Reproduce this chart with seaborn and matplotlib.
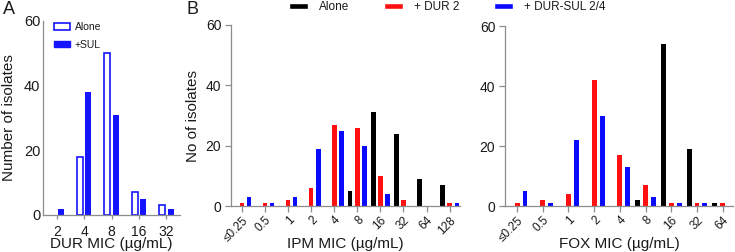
import pandas as pd
import numpy as np
import seaborn as sns
import matplotlib.pyplot as plt
from matplotlib.patches import Patch

# Panel A: DUR MIC distribution, alone vs + SUL
dur_mic = ["2", "4", "8", "16", "32"]
dur_alone = [0, 18, 50, 7, 3]
dur_sul = [2, 38, 31, 5, 2]

# Panel B: IPM and FOX MIC distributions
ipm_mic = ["≤0.25", "0.5", "1", "2", "4", "8", "16", "32", "64", "128"]
ipm_alone = [0, 0, 0, 0, 0, 5, 31, 24, 9, 7]
ipm_dur = [1, 1, 2, 6, 27, 26, 10, 2, 0, 1]
ipm_dursul = [3, 1, 3, 19, 25, 20, 4, 0, 0, 1]

fox_mic = ["≤0.25", "0.5", "1", "2", "4", "8", "16", "32", "64"]
fox_alone = [0, 0, 0, 0, 0, 2, 54, 19, 1]
fox_dur = [1, 2, 4, 42, 17, 7, 1, 1, 1]
fox_dursul = [5, 1, 22, 30, 13, 3, 1, 1, 0]

conditions = ["Alone", "+ DUR 2", "+ DUR-SUL 2/4"]
colors = ["#000000", "#ff1010", "#0a0aff"]
blue = "#1414ff"
spine_col = "#8c8c8c"
text_col = "#1a1a1a"

sns.set_style("ticks")
plt.rcParams["font.family"] = ["Liberation Sans", "DejaVu Sans"]
plt.rcParams["text.color"] = text_col
plt.rcParams["axes.labelcolor"] = text_col
plt.rcParams["xtick.color"] = spine_col
plt.rcParams["ytick.color"] = spine_col
plt.rcParams["xtick.labelcolor"] = text_col
plt.rcParams["ytick.labelcolor"] = text_col


def long_df(mics, series):
    rows = []
    for name, vals in zip(conditions, series):
        for m, v in zip(mics, vals):
            rows.append({"MIC": m, "Condition": name, "Count": v})
    return pd.DataFrame(rows)


def style_axis(ax, ysize, ylen):
    sns.despine(ax=ax)
    for s in ["left", "bottom"]:
        ax.spines[s].set_color(spine_col)
        ax.spines[s].set_linewidth(0.9)
    ax.set_ylim(0, 60)
    ax.set_yticks([0, 20, 40, 60])
    ax.tick_params(axis="y", length=ylen, width=0.9, pad=2 if ylen == 0 else 3,
                   labelsize=ysize)


W, H = 735, 252
fig = plt.figure(figsize=(W / 100, H / 100), dpi=100)

def frac(left, right, top, bottom):
    return [left / W, 1 - bottom / H, (right - left) / W, (bottom - top) / H]

# ---- Panel A ----
axA = fig.add_axes(frac(43, 180, 21, 215))
dfA = pd.DataFrame({
    "MIC": dur_mic * 2,
    "Condition": ["Alone"] * len(dur_mic) + ["+SUL"] * len(dur_mic),
    "Count": dur_alone + dur_sul,
})
sns.barplot(data=dfA, x="MIC", y="Count", hue="Condition", palette=[blue, blue],
            width=0.62, gap=0.3, saturation=1, linewidth=0, legend=False, ax=axA)
for p in axA.containers[0]:
    p.set_facecolor("white")
    p.set_edgecolor(blue)
    p.set_linewidth(1.2)
for c in axA.containers:
    for p in c:
        if p.get_height() == 0:
            p.set_visible(False)
style_axis(axA, 10.5, 0)
axA.set_xlim(-0.5, 4.5)
axA.tick_params(axis="x", length=3, width=0.9, pad=4, labelsize=10)
axA.set_xlabel("DUR MIC (µg/mL)", fontsize=11)
axA.xaxis.set_label_coords(0.5, -0.115)
axA.set_ylabel("Number of isolates", fontsize=11)
axA.yaxis.set_label_coords(-0.195, 0.5)
axA.legend(handles=[Patch(facecolor="white", edgecolor=blue, linewidth=1.2, label="Alone"),
                    Patch(facecolor=blue, edgecolor=blue, label="+SUL")],
           loc="upper left", bbox_to_anchor=(0.08, 0.995), frameon=False, fontsize=7.5,
           handlelength=1.5, handleheight=0.6, handletextpad=0.5, labelspacing=0.75,
           borderpad=0, borderaxespad=0)

# ---- Panel B ----
def panel_b(ax, mics, series, xlabel, xlim):
    df = long_df(mics, series)
    sns.barplot(data=df, x="MIC", y="Count", hue="Condition", palette=colors,
                width=0.92, gap=0.38, saturation=1, linewidth=0, legend=False, ax=ax)
    style_axis(ax, 10, 4)
    ax.set_xlim(*xlim)
    ax.tick_params(axis="x", length=4, width=0.9, pad=2, labelsize=8.5)
    plt.setp(ax.get_xticklabels(), rotation=45, ha="right", rotation_mode="anchor")
    ax.set_xlabel(xlabel, fontsize=11)
    ax.xaxis.set_label_coords(0.5, -0.17)

axI = fig.add_axes(frac(231, 460, 25, 206))
panel_b(axI, ipm_mic, [ipm_alone, ipm_dur, ipm_dursul], "IPM MIC (µg/mL)", (-0.48, 9.45))
axI.set_ylabel("No of isolates", fontsize=11)
axI.yaxis.set_label_coords(-0.135, 0.5)

axF = fig.add_axes(frac(505, 733, 26, 206))
panel_b(axF, fox_mic, [fox_alone, fox_dur, fox_dursul], "FOX MIC (µg/mL)", (-0.47, 8.4))
axF.set_ylabel("")

fig.legend(handles=[Patch(facecolor=c, label=l) for c, l in zip(colors, conditions)],
           loc="upper left", bbox_to_anchor=(289 / W, 1 - 1 / H), ncol=3, frameon=False,
           fontsize=8.5, handlelength=1.6, handleheight=0.4, handletextpad=0.9,
           columnspacing=3.0, borderpad=0, borderaxespad=0)

fig.text(3 / W, 1 - 1 / H, "A", fontsize=13, va="top", ha="left")
fig.text(186 / W, 1 - 1 / H, "B", fontsize=13, va="top", ha="left")

fig.savefig("out.png", dpi=100)
